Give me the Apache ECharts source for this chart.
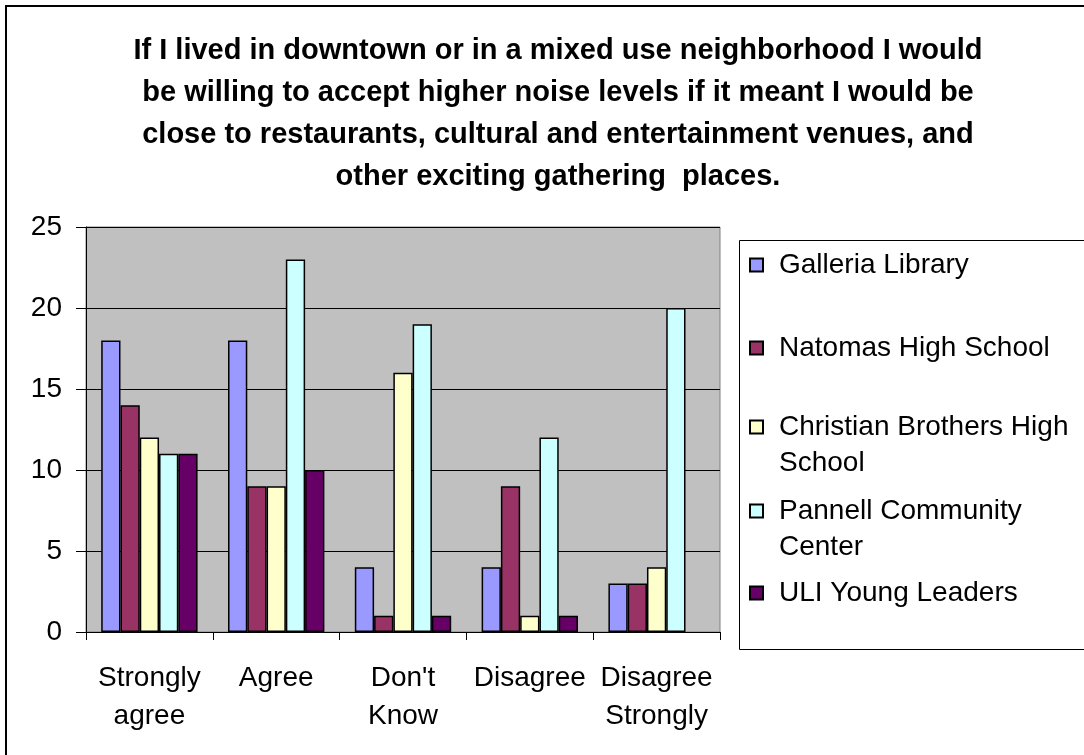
<!DOCTYPE html>
<html>
<head>
<meta charset="utf-8">
<script src="https://cdn.jsdelivr.net/npm/echarts@6/dist/echarts.min.js"></script>
<style>
  html, body { margin: 0; padding: 0; background: #fff; }
  #chart { width: 1084px; height: 755px; }
</style>
</head>
<body>
<div id="chart"></div>
<script>
var categories = ["Strongly\nagree", "Agree", "Don't\nKnow", "Disagree", "Disagree\nStrongly"];
var seriesNames = ["Galleria Library", "Natomas High School", "Christian Brothers High School", "Pannell Community Center", "ULI Young Leaders"];
var galleria = [18, 18, 4, 4, 3];
var natomas = [14, 9, 1, 9, 3];
var christian = [12, 9, 16, 1, 4];
var pannell = [11, 23, 19, 12, 20];
var uli = [11, 10, 1, 1, null];
var yTicks = [0, 5, 10, 15, 20, 25];
var colors = ["#9999ff", "#993366", "#ffffcc", "#ccffff", "#660066"];

var title = "If I lived in downtown or in a mixed use neighborhood I would\nbe willing to accept higher noise levels if it meant I would be\nclose to restaurants, cultural and entertainment venues, and\nother exciting gathering  places.";

(function() {
  var chart = echarts.init(document.getElementById("chart"));
  var values = [galleria, natomas, christian, pannell, uli];
  var font = "Arial, 'Liberation Sans', sans-serif";

  // wrapped legend labels get a blank first line so the icon sits on line one
  var legendLabels = {
    "Galleria Library": "Galleria Library",
    "Natomas High School": "Natomas High School",
    "Christian Brothers High School": "{e| }\nChristian Brothers High\nSchool",
    "Pannell Community Center": "{e| }\nPannell Community\nCenter",
    "ULI Young Leaders": "ULI Young Leaders"
  };
  var legendTops = [247, 330, 373, 457, 575];

  var legends = seriesNames.map(function(name, i) {
    return {
      data: [name],
      left: 749,
      top: legendTops[i],
      padding: 0,
      icon: "rect",
      itemWidth: 13,
      itemHeight: 13,
      itemGap: 0,
      selectedMode: false,
      formatter: function(n) { return legendLabels[n]; },
      textStyle: {
        fontFamily: font,
        fontSize: 28,
        lineHeight: 36,
        color: "#000",
        padding: [0, 0, 0, 11],
        rich: { e: { fontSize: 28, lineHeight: 36 } }
      }
    };
  });

  var series = seriesNames.map(function(name, i) {
    return {
      name: name,
      type: "bar",
      data: values[i],
      barGap: "0%",
      barCategoryGap: "24%",
      itemStyle: {
        color: colors[i],
        borderColor: "#000",
        borderWidth: 1.5
      },
      emphasis: { disabled: true }
    };
  });

  var option = {
    animation: false,
    backgroundColor: "#fff",
    title: {
      text: title,
      left: 553,
      textAlign: "center",
      top: 25,
      textStyle: {
        fontFamily: font,
        fontSize: 29,
        fontWeight: "bold",
        lineHeight: 42,
        color: "#000"
      }
    },
    legend: legends,
    grid: {
      left: 86,
      right: 364,
      top: 227,
      bottom: 123,
      show: true,
      backgroundColor: "#c0c0c0",
      borderColor: "#808080",
      borderWidth: 1
    },
    xAxis: {
      type: "category",
      data: categories,
      axisLine: { lineStyle: { color: "#000", width: 1 } },
      axisTick: { show: true, length: 8, lineStyle: { color: "#000" } },
      axisLabel: {
        interval: 0,
        margin: 27,
        fontFamily: font,
        fontSize: 28,
        lineHeight: 38,
        color: "#000"
      }
    },
    yAxis: {
      type: "value",
      min: yTicks[0],
      max: yTicks[yTicks.length - 1],
      interval: 5,
      axisLine: { show: true, lineStyle: { color: "#000", width: 1 } },
      axisTick: { show: true, length: 10, lineStyle: { color: "#000" } },
      splitLine: { lineStyle: { color: "#000", width: 1 } },
      axisLabel: {
        margin: 24,
        fontFamily: font,
        fontSize: 28,
        color: "#000"
      }
    },
    graphic: [
      {
        type: "rect",
        shape: { x: 6, y: 6, width: 1100, height: 800 },
        style: { fill: null, stroke: "#000", lineWidth: 2 },
        silent: true
      },
      {
        type: "rect",
        shape: { x: 739.5, y: 240.5, width: 360, height: 409 },
        style: { fill: null, stroke: "#000", lineWidth: 1 },
        silent: true
      }
    ],
    series: series
  };

  chart.setOption(option);
  window.addEventListener("resize", function() {
    chart && chart.resize();
  });
})();
</script>
</body>
</html>
